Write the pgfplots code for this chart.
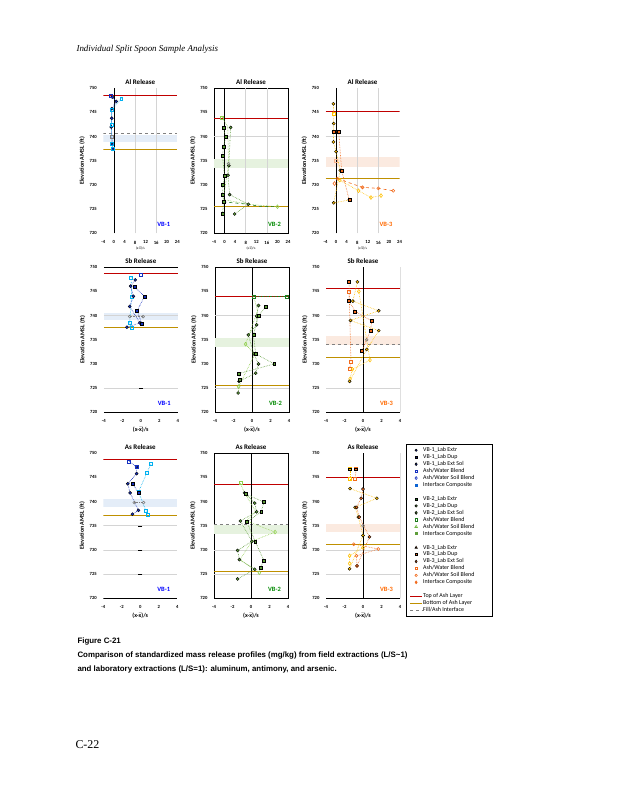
\documentclass[border=0pt]{standalone}
\usepackage{pgfplots}
\pgfplotsset{compat=1.18}
\usepackage{fontspec}
\setmainfont{Carlito}
\newfontfamily\capfont{Liberation Sans}
\newfontfamily\pagefont{Liberation Serif}

\definecolor{topc}{HTML}{C00000}
\definecolor{botc}{HTML}{BF9000}
\definecolor{bdk}{HTML}{1530C0}
\definecolor{blt}{HTML}{00B0F0}
\definecolor{gdk}{HTML}{1E7B1E}
\definecolor{gfl}{HTML}{5E9E3A}
\definecolor{glt}{HTML}{92D050}
\definecolor{odk}{HTML}{F26B1D}
\definecolor{oyl}{HTML}{FFC000}
\definecolor{bandb}{HTML}{E4EDF8}
\definecolor{bandg}{HTML}{E6F2DF}
\definecolor{bando}{HTML}{FBEAE0}
\definecolor{gridc}{HTML}{D4D4D4}
\definecolor{vbA}{HTML}{0000FF}
\definecolor{vbB}{HTML}{008A00}
\definecolor{vbC}{HTML}{FF6A00}

\newcommand{\xbar}{$\bar{\hbox{x}}$}
\tikzset{vbl/.style={font=\fontsize{6.5}{7}\selectfont\bfseries, anchor=south east}}

\pgfplotsset{
  panel/.style={scale only axis, width=74bp, height=145bp,
    ymin=720, ymax=750, ytick={720,725,...,750}, xmin=-4,
    major tick length=0pt,
    tick label style={font=\fontsize{4.7}{5}\selectfont\bfseries},
    /pgf/number format/assume math mode=true,
    xticklabel style={yshift=-4bp}, yticklabel style={xshift=-3bp},
    title style={font=\fontsize{7}{8}\selectfont\bfseries, yshift=-5.5bp},
    ylabel={Elevation AMSL (ft)},
    ylabel style={font=\fontsize{6}{7}\selectfont\bfseries, yshift=-2bp},
    xlabel style={font=\fontsize{6}{7}\selectfont\bfseries, yshift=3bp}},
  rowA/.style={panel, xmax=24, xtick={-4,0,...,24}, xlabel={(x-\xbar)/s},
    xlabel style={font=\fontsize{3.5}{4}\selectfont, yshift=1bp}},
  rowB/.style={panel, xmax=4, xtick={-4,-2,...,4}, xlabel={(x-\xbar)/s}},
  noframe/.style={axis line style={draw=none}},
  labA/.style={#1, densely dotted, line width=0.6pt, mark=*, mark size=1.55,
    mark options={solid, fill=#1, draw=black, line width=0.4pt}},
  labB/.style={#1, densely dotted, line width=0.6pt, mark=square*, mark size=1.45,
    mark options={solid, fill=#1, draw=black, line width=0.4pt}},
  fldA/.style={#1, densely dotted, line width=0.6pt, mark=square, mark size=1.5,
    mark options={solid, line width=0.55pt}},
  fldB/.style={#1, densely dotted, line width=0.6pt, mark=diamond, mark size=1.9,
    mark options={solid, line width=0.55pt}},
  fldC/.style={#1, dashed, line width=0.6pt, mark=o, mark size=1.5,
    mark options={solid, line width=0.55pt}},
  comp/.style={gray, densely dotted, line width=0.6pt, mark=o, mark size=1.4,
    mark options={solid}},
  toplin/.style={topc, line width=0.9pt, forget plot},
  botlin/.style={botc, line width=0.9pt, forget plot},
  fillin/.style={gray, dashed, line width=0.7pt, forget plot},
  zerlin/.style={black, line width=0.6pt, forget plot},
  frm/.style={black, line width=0.6pt, forget plot},
  grd/.style={gridc, line width=0.6pt, forget plot},
}

\begin{document}
\begin{tikzpicture}
\fill[white] (0,0) rectangle (618bp,800bp);
\useasboundingbox (0,0) rectangle (618bp,800bp);

\node[anchor=west, font=\pagefont\itshape\fontsize{9}{10}\selectfont] at (73bp,751bp) {Individual Split Spoon Sample Analysis};

% ---------------- Row 1: Al ----------------
\begin{axis}[rowA, noframe, at={(103.3bp,566.7bp)}, anchor=south west, title={Al Release}]
\addplot[fill=bandb, draw=none, forget plot] coordinates {(-4,738.8)(24,738.8)(24,740.3)(-4,740.3)} -- cycle;
\addplot[grd] coordinates {(8,720)(8,750)};
\addplot[grd] coordinates {(16,720)(16,750)};
\addplot[fillin] coordinates {(-4,740.75)(24,740.75)};
\addplot[toplin] coordinates {(-4,748.6)(24,748.6)};
\addplot[botlin] coordinates {(-4,737.3)(24,737.3)};
\addplot[zerlin] coordinates {(0,720)(0,750)};
\addplot[labA=bdk] coordinates {(-0.6,748.2)(0.9,747.3)(-0.8,745.8)(-0.8,743.8)(-1,742)(-0.6,738.4)(-0.4,737.4)};
\addplot[fldA=blt] coordinates {(2.8,747.9)(-0.9,745.5)(-0.9,742.5)(-0.7,738.5)(-0.5,737.5)};
\addplot[fldA=bdk, only marks] coordinates {(-1,748.4)};
\addplot[comp, mark=square] coordinates {(-0.8,739.9)};
\node[vbl, text=vbA] at (axis description cs:0.95,0.02) {VB-1};
\end{axis}

\begin{axis}[rowA, at={(214bp,566.7bp)}, anchor=south west, title={Al Release}]
\addplot[fill=bandg, draw=none, forget plot] coordinates {(-4,733.5)(24,733.5)(24,735.4)(-4,735.4)} -- cycle;
\addplot[grd] coordinates {(8,720)(8,750)};
\addplot[grd] coordinates {(16,720)(16,750)};
\addplot[grd] coordinates {(-4,740)(24,740)};
\addplot[toplin] coordinates {(-4,743.8)(24,743.8)};
\addplot[botlin] coordinates {(-4,725.5)(24,725.5)};
\addplot[zerlin] coordinates {(0,720)(0,750)};
\addplot[glt, densely dotted, line width=0.6pt] coordinates {(-0.9,744)(1.2,742)(1.5,734.3)(-0.5,727)(9,726)(20,725.5)};
\addplot[gdk, dashed, line width=0.6pt] coordinates {(-0.4,726.5)(9,726)(13,725.6)(20,725.5)};
\addplot[labB=gfl] coordinates {(-0.4,741.9)(0.4,739.9)(-0.4,737.9)(-0.8,736)(0,732)(-0.6,730)(-0.75,728)(-0.4,726.5)(-0.75,724)};
\addplot[labA=gfl] coordinates {(2.3,741.9)(1.6,734)(1.3,732)(1.9,728)(9,726)(3.8,724)};
\addplot[fldA=glt, only marks] coordinates {(-0.9,744)};
\addplot[fldB=glt, only marks] coordinates {(20,725.5)};
\addplot[comp] coordinates {(1.5,734.4)};
\node[vbl, text=vbB] at (axis description cs:0.95,0.02) {VB-2};
\end{axis}

\begin{axis}[rowA, noframe, at={(325.5bp,566.7bp)}, anchor=south west, title={Al Release}]
\addplot[fill=bando, draw=none, forget plot] coordinates {(-4,733.8)(24,733.8)(24,735.7)(-4,735.7)} -- cycle;
\addplot[grd] coordinates {(8,720)(8,750)};
\addplot[grd] coordinates {(16,720)(16,750)};
\addplot[grd] coordinates {(-4,740)(24,740)};
\addplot[toplin] coordinates {(-4,745.3)(24,745.3)};
\addplot[botlin] coordinates {(-4,731.4)(24,731.4)};
\addplot[zerlin] coordinates {(0,720)(0,750)};
\addplot[fldC=odk] coordinates {(0.5,731.3)(10,729.5)(16,729.3)(21.6,728.8)};
\addplot[fldB=oyl] coordinates {(1.4,731)(8.5,728.8)(13.2,727.4)(17,727.8)};
\addplot[labA=oyl] coordinates {(-1,746.8)(-0.9,742.7)(-0.9,741)(-1,738.9)(0,736.9)(1.6,733)(-0.9,726.3)(5,726.9)};
\addplot[labB=odk] coordinates {(-1,741)(1,741)(2.1,733)(5,726.9)};
\addplot[fldA=oyl, only marks] coordinates {(-1,744.8)};
\addplot[fldB=odk, only marks] coordinates {(-0.6,730.3)};
\addplot[comp, mark=square, color=odk!50] coordinates {(0,735)};
\node[vbl, text=vbC] at (axis description cs:0.95,0.02) {VB-3};
\end{axis}

% ---------------- Row 2: Sb ----------------
\begin{axis}[rowB, noframe, at={(103.8bp,387.7bp)}, anchor=south west, title={Sb Release}]
\addplot[fill=bandb, draw=none, forget plot] coordinates {(-4,739.1)(4,739.1)(4,740.6)(-4,740.6)} -- cycle;
\addplot[grd] coordinates {(-4,740)(4,740)};
\addplot[grd] coordinates {(-4,725)(4,725)};
\addplot[frm] coordinates {(-4,750)(4,750)};
\addplot[frm] coordinates {(-4,720)(4,720)};
\addplot[toplin] coordinates {(-4,748.8)(4,748.8)};
\addplot[botlin] coordinates {(-4,737.6)(4,737.6)};
\addplot[black, only marks, mark=-, mark size=2, forget plot] coordinates {(0,725)};
\addplot[fldA=blt] coordinates {(-1.05,747.9)(-1,744)(-1.2,738.5)(-1,737.4)};
\addplot[labA=bdk] coordinates {(-0.6,747.4)(-1.1,746.1)(-0.8,744)(-1.2,741.9)(-0.1,738.5)(-1.5,737.6)};
\addplot[labB=bdk] coordinates {(-0.7,746)(0.4,744)(-0.4,741)(0.1,738.4)};
\addplot[fldA=bdk, only marks] coordinates {(0,748.5)};
\addplot[comp] coordinates {(-1.2,739.8)(0.25,739.8)};
\node[vbl, text=vbA] at (axis description cs:0.95,0.02) {VB-1};
\end{axis}

\begin{axis}[rowB, at={(215bp,387.7bp)}, anchor=south west, title={Sb Release}]
\addplot[fill=bandg, draw=none, forget plot] coordinates {(-4,733.5)(4,733.5)(4,735.3)(-4,735.3)} -- cycle;
\addplot[grd] coordinates {(-4,740)(4,740)};
\addplot[grd] coordinates {(-4,725)(4,725)};
\addplot[toplin] coordinates {(-4,744)(4,744)};
\addplot[botlin] coordinates {(-4,725.6)(4,725.6)};
\addplot[zerlin] coordinates {(0,720)(0,750)};
\addplot[glt, densely dotted, line width=0.6pt] coordinates {(0.2,743.9)(0.6,741)(-0.7,734.1)(0.3,732)(-1.45,725.3)};
\addplot[fldA=gdk] coordinates {(0.2,743.9)(3.8,743.9)};
\addplot[labA=gfl] coordinates {(0.7,742.1)(0.5,739.9)(0.5,738.1)(-0.4,736)(0.2,732.1)(0.7,730)(0.4,728.1)(-1.4,726.4)(-1.5,724)};
\addplot[labB=gfl] coordinates {(1.5,741.9)(0.7,739.9)(0.15,736)(0.4,732.1)(2.4,730)(-1.45,728)(-1.35,726.8)};
\addplot[fldB=glt, only marks] coordinates {(-0.7,734.1)(-1.45,725.3)};
\node[vbl, text=vbB] at (axis description cs:0.95,0.02) {VB-2};
\end{axis}

\begin{axis}[rowB, noframe, at={(326bp,387.7bp)}, anchor=south west, title={Sb Release}]
\addplot[fill=bando, draw=none, forget plot] coordinates {(-4,734)(4,734)(4,735.8)(-4,735.8)} -- cycle;
\addplot[grd] coordinates {(-4,740)(4,740)};
\addplot[grd] coordinates {(-4,725)(4,725)};
\addplot[frm] coordinates {(-4,720)(4,720)};
\addplot[frm] coordinates {(4,720)(4,750)};
\addplot[fillin] coordinates {(-4,734)(4,734)};
\addplot[toplin] coordinates {(-4,745.6)(4,745.6)};
\addplot[botlin] coordinates {(-4,731.4)(4,731.4)};
\addplot[zerlin] coordinates {(0,720)(0,750)};
\addplot[fldA=odk] coordinates {(-1.5,745)(-1.3,730.4)(-1.45,729)};
\addplot[fldB=oyl] coordinates {(-0.45,745)(0.75,730.8)(-1.15,728.9)(-1.4,726.9)};
\addplot[labB=odk] coordinates {(-1.5,747)(-1.5,743)(-0.85,740.9)(0.95,738.9)(0.8,736.9)(-0.1,732.8)};
\addplot[labA=oyl] coordinates {(-0.6,747)(-1.1,743)(1.7,741)(-1.35,739)(1.7,736.9)(0.4,733)(-1.45,726.4)};
\addplot[comp] coordinates {(0.4,735)};
\node[vbl, text=vbC] at (axis description cs:0.95,0.02) {VB-3};
\end{axis}

% ---------------- Row 3: As ----------------
\begin{axis}[rowB, noframe, at={(103.3bp,201.7bp)}, anchor=south west, title={As Release}]
\addplot[fill=bandb, draw=none, forget plot] coordinates {(-4,738.8)(4,738.8)(4,740.5)(-4,740.5)} -- cycle;
\addplot[grd] coordinates {(-4,735)(4,735)};
\addplot[grd] coordinates {(-4,730)(4,730)};
\addplot[grd] coordinates {(-4,725)(4,725)};
\addplot[frm] coordinates {(-4,720)(4,720)};
\addplot[toplin] coordinates {(-4,748.8)(4,748.8)};
\addplot[botlin] coordinates {(-4,737.2)(4,737.2)};
\addplot[black, only marks, mark=-, mark size=2, forget plot] coordinates {(0,735)(0,730)(0,725)};
\addplot[fldA=blt] coordinates {(1.15,747.8)(0.7,745.9)(-0.2,742)(0.6,738.2)(0.85,737.2)};
\addplot[labA=bdk] coordinates {(-0.4,747.2)(-0.4,745.8)(-1.35,743.7)(-1.1,741.8)(-0.2,738.2)(-0.85,737.4)};
\addplot[labB=bdk] coordinates {(-0.85,743.8)(-0.2,741.8)};
\addplot[fldA=bdk] coordinates {(-1.2,748.3)(-0.4,747.2)};
\addplot[comp] coordinates {(-0.65,739.8)(0.35,739.8)};
\node[vbl, text=vbA] at (axis description cs:0.95,0.02) {VB-1};
\end{axis}

\begin{axis}[rowB, at={(214bp,201.7bp)}, anchor=south west, title={As Release}]
\addplot[fill=bandg, draw=none, forget plot] coordinates {(-4,733.3)(4,733.3)(4,735.2)(-4,735.2)} -- cycle;
\addplot[grd] coordinates {(-4,730)(4,730)};
\addplot[grd] coordinates {(-4,725)(4,725)};
\addplot[fillin] coordinates {(-4,735.2)(4,735.2)};
\addplot[toplin] coordinates {(-4,743.6)(4,743.6)};
\addplot[botlin] coordinates {(-4,725.5)(4,725.5)};
\addplot[zerlin] coordinates {(0,720)(0,750)};
\addplot[glt, densely dotted, line width=0.6pt] coordinates {(-1.15,743.8)(-0.7,741.8)(0.5,738)(-0.5,736)(2.6,733.7)(0.1,731.8)(-1.2,728)(0.9,725.3)};
\addplot[labA=gfl] coordinates {(-0.7,741.8)(0.4,739.7)(0.6,737.9)(-1.15,736)(0.1,731.8)(-1.45,729.9)(-1.25,728)(0.4,726)(-1.45,724)};
\addplot[labB=gfl] coordinates {(-0.6,741.6)(1.4,739.9)(1.1,737.9)(-0.45,735.8)(0.45,731.8)(1.4,727.8)(1,726.4)};
\addplot[fldA=glt, only marks] coordinates {(-1.15,743.8)};
\addplot[fldB=glt, only marks] coordinates {(2.6,733.7)(0.9,725.3)};
\node[vbl, text=vbB] at (axis description cs:0.95,0.02) {VB-2};
\end{axis}

\begin{axis}[rowB, noframe, at={(326bp,201.7bp)}, anchor=south west, title={As Release},
  legend image code/.code={\draw[mark repeat=2,mark phase=2,#1] plot coordinates {(0bp,0bp)(6bp,0bp)(12bp,0bp)};},
  legend cell align=left,
  legend style={at={(axis description cs:1.087,1.064)}, anchor=north west, draw=black, line width=0.6pt,
    font=\fontsize{6}{6.5}\selectfont, row sep=0bp, inner xsep=3bp, inner ysep=2.5bp,
    nodes={inner sep=0.6bp, text height=4.3bp, text depth=1.45bp}}]
\addplot[fill=bando, draw=none, forget plot] coordinates {(-4,733.7)(4,733.7)(4,735.4)(-4,735.4)} -- cycle;
\addplot[grd] coordinates {(-4,730)(4,730)};
\addplot[grd] coordinates {(-4,725)(4,725)};
\addplot[frm] coordinates {(-4,720)(4,720)};
\addplot[frm] coordinates {(4,720)(4,750)};
\addplot[toplin] coordinates {(-4,745.1)(4,745.1)};
\addplot[botlin] coordinates {(-4,731.2)(4,731.2)};
\addplot[zerlin] coordinates {(0,720)(0,750)};
\addplot[fldA=oyl, forget plot] coordinates {(-1.4,746.7)(-1.4,744.7)};
\addplot[fldA=odk, forget plot] coordinates {(-0.75,746.7)(-0.85,744.7)};
\addplot[fldC=odk, densely dotted, forget plot] coordinates {(-1,731.2)(1.65,730.2)(-0.7,728.8)(-0.65,726.7)};
\addplot[fldB=oyl, forget plot] coordinates {(0,730.5)(-1.45,728.8)(-1.45,727.2)};
\addplot[labA=oyl, forget plot] coordinates {(-1.4,742.7)(1.5,740.7)(-0.85,738.8)(-0.5,736.8)(0,733)(-1.45,726.1)};
\addplot[labB=oyl, only marks, forget plot] coordinates {(-1.4,746.7)};
\addplot[labB=odk, only marks, forget plot] coordinates {(-0.75,746.7)};
\addplot[labA=odk, forget plot] coordinates {(0,742.6)(-0.2,740.7)(-0.7,738.8)(-0.4,736.8)(0.7,732.7)(-0.65,726.7)};
\addplot[comp, forget plot] coordinates {(0,735)};
\node[vbl, text=vbC] at (axis description cs:0.95,0.02) {VB-3};
% legend
\addlegendimage{only marks, mark=*, mark size=1.1, mark options={fill=bdk, draw=black}}
\addlegendentry{VB-1\_Lab Extr}
\addlegendimage{only marks, mark=square*, mark size=1.1, mark options={fill=bdk!60!black, draw=black}}
\addlegendentry{VB-1\_Lab Dup}
\addlegendimage{only marks, mark=diamond*, mark size=1.4, mark options={fill=bdk, draw=black}}
\addlegendentry{VB-1\_Lab Ext Sol}
\addlegendimage{only marks, mark=square, mark size=1.2, bdk}
\addlegendentry{Ash/Water Blend}
\addlegendimage{only marks, mark=diamond, mark size=1.5, bdk}
\addlegendentry{Ash/Water Soil Blend}
\addlegendimage{only marks, mark=square*, mark size=1.1, blt!40!bdk}
\addlegendentry{\makebox[66bp][l]{Interface Composite}}
\addlegendimage{empty legend}\addlegendentry{}
\addlegendimage{only marks, mark=square*, mark size=1.1, mark options={fill=gdk, draw=black}}
\addlegendentry{VB-2\_Lab Extr}
\addlegendimage{only marks, mark=*, mark size=1.2, mark options={fill=gfl, draw=black}}
\addlegendentry{VB-2\_Lab Dup}
\addlegendimage{only marks, mark=diamond*, mark size=1.5, mark options={fill=gfl, draw=black}}
\addlegendentry{VB-2\_Lab Ext Sol}
\addlegendimage{only marks, mark=square, mark size=1.2, gdk}
\addlegendentry{Ash/Water Blend}
\addlegendimage{only marks, mark=triangle, mark size=1.5, glt!70!gdk}
\addlegendentry{Ash/Water Soil Blend}
\addlegendimage{only marks, mark=square*, mark size=1.1, gfl}
\addlegendentry{Interface Composite}
\addlegendimage{empty legend}\addlegendentry{}
\addlegendimage{only marks, mark=triangle*, mark size=1.3, mark options={fill=odk, draw=black}}
\addlegendentry{VB-3\_Lab Extr}
\addlegendimage{only marks, mark=square*, mark size=1.1, mark options={fill=odk, draw=black}}
\addlegendentry{VB-3\_Lab Dup}
\addlegendimage{only marks, mark=diamond*, mark size=1.3, mark options={fill=odk, draw=black}}
\addlegendentry{VB-3\_Lab Ext Sol}
\addlegendimage{only marks, mark=square, mark size=1.2, odk}
\addlegendentry{Ash/Water Blend}
\addlegendimage{only marks, mark=o, mark size=1.2, odk}
\addlegendentry{Ash/Water Soil Blend}
\addlegendimage{only marks, mark=diamond*, mark size=1.4, odk}
\addlegendentry{Interface Composite}
\addlegendimage{empty legend}\addlegendentry{}
\addlegendimage{topc, line width=0.8pt}
\addlegendentry{Top of Ash Layer}
\addlegendimage{botc, line width=0.8pt}
\addlegendentry{Bottom of Ash Layer}
\addlegendimage{gray, dashed, line width=0.7pt}
\addlegendentry{Fill/Ash Interface}
\end{axis}

% ---------------- caption and page ----------------
\node[anchor=west, font=\capfont\bfseries\fontsize{7.9}{9}\selectfont] at (74bp,159bp) {Figure C-21};
\node[anchor=west, font=\capfont\bfseries\fontsize{7.9}{9}\selectfont] at (74bp,145bp) {Comparison of standardized mass release profiles (mg/kg) from field extractions (L/S\textasciitilde1)};
\node[anchor=west, font=\capfont\bfseries\fontsize{7.9}{9}\selectfont] at (74bp,131bp) {and laboratory extractions (L/S=1): aluminum, antimony, and arsenic.};
\node[anchor=west, font=\pagefont\fontsize{12}{13}\selectfont] at (72bp,55bp) {C-22};
\end{tikzpicture}
\end{document}
